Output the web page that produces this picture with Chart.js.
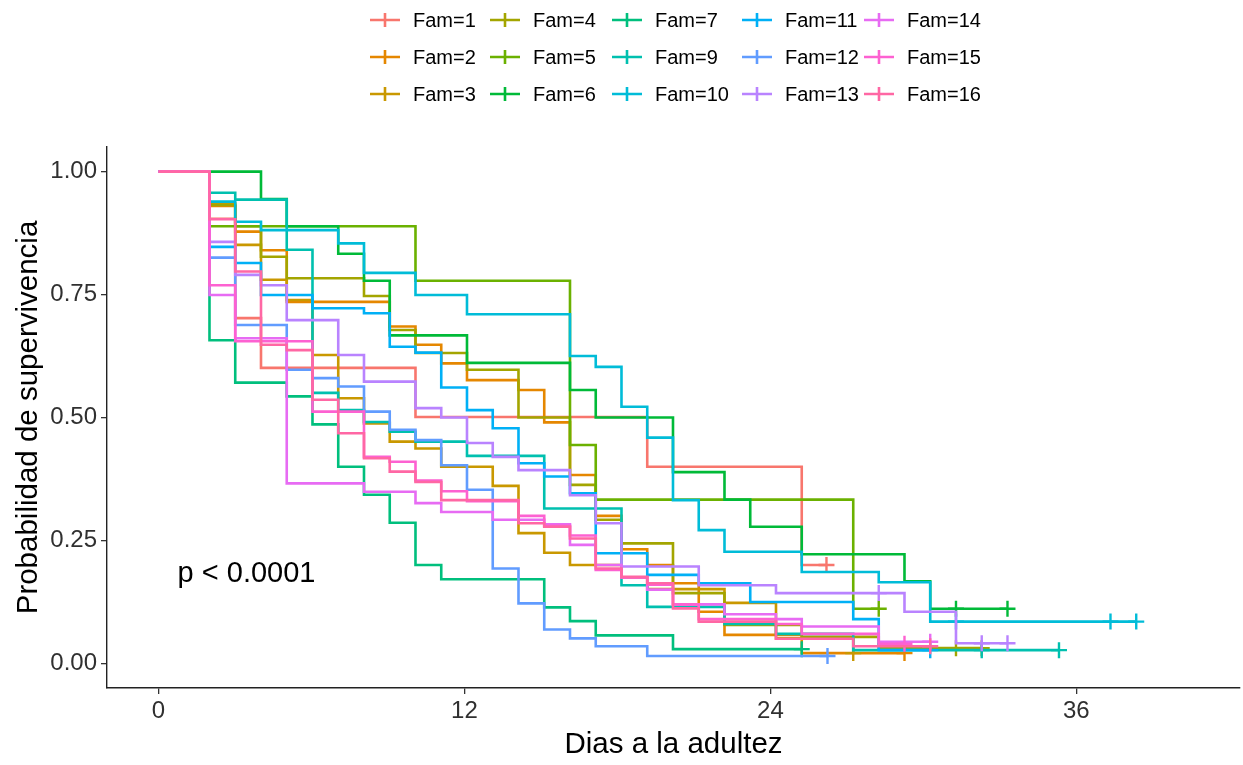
<!DOCTYPE html>
<html>
<head>
<meta charset="utf-8">
<script src="https://cdn.jsdelivr.net/npm/chart.js@4.4.0/dist/chart.umd.min.js"></script>
<style>
  html, body { margin: 0; padding: 0; background: #fff; }
  canvas { display: block; }
</style>
</head>
<body>
<canvas id="grafica" width="1243" height="765"></canvas>
<script>
// Curvas de supervivencia (Kaplan-Meier): [dia, probabilidad]
const fam1 = [[0,1],[2,0.904],[3.01,0.702],[4.02,0.601],[10.08,0.501],[19.17,0.40],[25.23,0.20]];
const fam2 = [[0,1],[2,0.93],[3.01,0.878],[4.02,0.84],[5.03,0.735],[9.07,0.685],[10.08,0.648],[11.09,0.61],[12.10,0.576],[14.12,0.556],[15.13,0.49],[16.14,0.383],[17.15,0.30],[18.16,0.232],[19.17,0.20],[20.18,0.163],[21.19,0.105],[22.20,0.058],[25.23,0.021]];
const fam3 = [[0,1],[2,0.935],[3.01,0.851],[4.02,0.78],[5.03,0.739],[6.04,0.627],[7.05,0.539],[8.06,0.488],[9.07,0.451],[10.08,0.437],[11.09,0.40],[13.11,0.361],[14.12,0.265],[15.13,0.225],[16.14,0.20],[18.16,0.175],[19.17,0.151],[22.20,0.123],[24.22,0.051],[27.25,0.021]];
const fam4 = [[0,1],[2,0.932],[3.01,0.889],[4.02,0.827],[5.03,0.783],[8.06,0.747],[9.07,0.678],[10.08,0.631],[12.10,0.597],[14.12,0.50],[16.14,0.363],[17.15,0.292],[18.16,0.244],[20.18,0.143],[22.20,0.078],[25.23,0.054],[28.25,0.031]];
const fam5 = [[0,1],[2,0.889],[10.08,0.778],[16.14,0.444],[17.15,0.333],[27.25,0.111]];
const fam6 = [[0,1],[4.02,0.944],[5.03,0.889],[7.05,0.833],[8.06,0.778],[9.07,0.667],[12.10,0.611],[16.14,0.556],[17.15,0.5],[20.18,0.389],[22.20,0.333],[23.21,0.278],[25.23,0.222],[29.26,0.167],[30.27,0.111]];
const fam7 = [[0,1],[2,0.657],[3.01,0.571],[5.03,0.543],[6.04,0.486],[7.05,0.40],[8.06,0.343],[9.07,0.286],[10.08,0.20],[11.09,0.171],[15.13,0.114],[16.14,0.086],[17.15,0.057],[20.18,0.029]];
const fam9 = [[0,1],[2,0.957],[3.01,0.943],[5.03,0.841],[6.04,0.55],[7.05,0.515],[8.06,0.491],[9.07,0.471],[10.08,0.451],[12.10,0.422],[15.13,0.315],[18.16,0.159],[19.17,0.115],[22.20,0.08],[24.22,0.06],[27.25,0.027]];
const fam10 = [[0,1],[2,0.939],[3.01,0.898],[4.02,0.881],[7.05,0.854],[8.06,0.794],[10.08,0.749],[12.10,0.71],[16.14,0.625],[17.15,0.603],[18.16,0.522],[19.17,0.459],[20.18,0.332],[21.19,0.271],[22.20,0.227],[25.23,0.186],[28.25,0.165],[30.27,0.085]];
const fam11 = [[0,1],[2,0.847],[3.01,0.814],[4.02,0.749],[6.04,0.722],[8.06,0.712],[9.07,0.644],[10.08,0.632],[11.09,0.561],[12.10,0.515],[13.11,0.478],[14.12,0.407],[15.13,0.38],[16.14,0.346],[17.15,0.224],[19.17,0.18],[21.19,0.163],[23.21,0.125],[27.25,0.09],[28.25,0.027]];
const fam12 = [[0,1],[2,0.825],[3.01,0.688],[5.03,0.597],[6.04,0.58],[7.05,0.563],[8.06,0.512],[9.07,0.475],[10.08,0.454],[11.09,0.403],[12.10,0.353],[13.11,0.193],[14.12,0.122],[15.13,0.069],[16.14,0.051],[17.15,0.035],[19.17,0.015]];
const fam13 = [[0,1],[2,0.857],[3.01,0.79],[4.02,0.769],[5.03,0.698],[7.05,0.627],[8.06,0.573],[10.08,0.519],[11.09,0.50],[12.10,0.448],[13.11,0.42],[14.12,0.393],[16.14,0.342],[17.15,0.285],[18.16,0.197],[21.19,0.159],[24.22,0.143],[29.26,0.105],[31.28,0.041]];
const fam14 = [[0,1],[2,0.749],[3.01,0.661],[5.03,0.366],[8.06,0.349],[10.08,0.326],[11.09,0.308],[13.11,0.292],[15.13,0.283],[16.14,0.241],[17.15,0.20],[18.16,0.175],[19.17,0.15],[20.18,0.12],[22.20,0.10],[24.22,0.09],[25.23,0.075],[28.25,0.044]];
const fam15 = [[0,1],[2,0.769],[3.01,0.655],[6.04,0.512],[8.06,0.42],[9.07,0.41],[10.08,0.372],[11.09,0.35],[12.10,0.33],[14.12,0.30],[15.13,0.28],[16.14,0.26],[17.15,0.19],[18.16,0.175],[19.17,0.16],[20.18,0.12],[21.19,0.09],[24.22,0.08],[25.23,0.06],[28.25,0.04]];
const fam16 = [[0,1],[2,0.903],[3.01,0.797],[4.02,0.648],[5.03,0.637],[6.04,0.536],[7.05,0.468],[8.06,0.417],[9.07,0.39],[10.08,0.369],[11.09,0.332],[14.12,0.285],[15.13,0.278],[16.14,0.254],[17.15,0.193],[18.16,0.176],[19.17,0.163],[20.18,0.112],[21.19,0.085],[24.22,0.05],[27.25,0.035]];

// Tiempos censurados (marcas "+")
const cens1 = [26.2];
const cens2 = [29.26];
const cens3 = [27.25];
const cens4 = [31.28, 32.29];
const cens5 = [28.25];
const cens6 = [31.28, 33.30];
const cens7 = [25.23];
const cens9 = [32.29, 35.32];
const cens10 = [31.28, 37.34, 38.35];
const cens11 = [30.27];
const cens12 = [26.24];
const cens13 = [28.25, 32.29, 33.30];
const cens14 = [30.27];
const cens15 = [29.26];
const cens16 = [30.27];

const etiquetas = ['Fam=1','Fam=2','Fam=3','Fam=4','Fam=5','Fam=6','Fam=7','Fam=9','Fam=10','Fam=11','Fam=12','Fam=13','Fam=14','Fam=15','Fam=16'];
const curvas = [fam1, fam2, fam3, fam4, fam5, fam6, fam7, fam9, fam10, fam11, fam12, fam13, fam14, fam15, fam16];
const censuras = [cens1, cens2, cens3, cens4, cens5, cens6, cens7, cens9, cens10, cens11, cens12, cens13, cens14, cens15, cens16];
const colores = ['#F8766D','#E58700','#C99800','#A3A500','#6BB100','#00BA38','#00BF7D','#00C0AF','#00BCD8','#00B0F6','#619CFF','#B983FF','#E76BF3','#FD61D1','#FF67A4'];

const ticksX = [0, 12, 24, 36];
const ticksY = [0, 0.25, 0.5, 0.75, 1];

const fuente = '"Liberation Sans", Arial, sans-serif';

// Une los pasos y las censuras de una familia en una sola serie ordenada
function construirPuntos(pasos, cens) {
  const puntos = pasos.map(([t, s]) => ({ x: t, y: s, c: false }));
  cens.forEach(t => {
    let s = 1;
    pasos.forEach(([tt, ss]) => { if (tt <= t) s = ss; });
    puntos.push({ x: t, y: s, c: true });
  });
  puntos.sort((a, b) => a.x - b.x || (a.c - b.c));
  return puntos;
}

const datasets = curvas.map((curva, i) => ({
  label: etiquetas[i],
  data: construirPuntos(curva, censuras[i]),
  borderColor: colores[i],
  backgroundColor: colores[i],
  borderWidth: 2.6,
  stepped: 'before', // horizontal primero y luego el salto, como Kaplan-Meier
  fill: false,
  order: curvas.length - i, // Fam=16 queda encima, como en ggplot
  pointStyle: 'cross',
  pointRadius: ctx => (ctx.raw && ctx.raw.c ? 8 : 0),
  pointHoverRadius: ctx => (ctx.raw && ctx.raw.c ? 8 : 0),
  pointBorderWidth: 2.4,
  pointBorderColor: colores[i]
}));

// Leyenda en 3 filas x 5 columnas (por columnas) y texto del valor p
const colLeyenda = [385, 505, 627, 757, 879];
const filaLeyenda = [20, 57, 94];
const valorP = { x: 0.75, y: 0.182, texto: 'p < 0.0001' };

const extrasPlugin = {
  id: 'extras',
  afterDraw(chart) {
    const ctx = chart.ctx;
    ctx.save();
    etiquetas.forEach((txt, i) => {
      const cx = colLeyenda[Math.floor(i / 3)];
      const cy = filaLeyenda[i % 3];
      ctx.strokeStyle = colores[i];
      ctx.lineWidth = 2.6;
      ctx.beginPath();
      ctx.moveTo(cx - 15, cy); ctx.lineTo(cx + 15, cy);
      ctx.moveTo(cx, cy - 7); ctx.lineTo(cx, cy + 7);
      ctx.stroke();
      ctx.fillStyle = '#000';
      ctx.font = '20px ' + fuente;
      ctx.textBaseline = 'middle';
      ctx.textAlign = 'left';
      ctx.fillText(txt, cx + 28, cy + 1);
    });
    const px = chart.scales.x.getPixelForValue(valorP.x);
    const py = chart.scales.y.getPixelForValue(valorP.y);
    ctx.fillStyle = '#000';
    ctx.font = '29px ' + fuente;
    ctx.textBaseline = 'middle';
    ctx.fillText(valorP.texto, px, py);
    ctx.restore();
  }
};

const ejeComun = {
  border: { display: true, color: '#222', width: 1.4 },
  grid: { display: true, drawOnChartArea: false, drawTicks: true, tickLength: 6, color: '#333', lineWidth: 1.3 }
};

new Chart(document.getElementById('grafica').getContext('2d'), {
  type: 'line',
  data: { datasets },
  options: {
    responsive: false,
    devicePixelRatio: 1,
    animation: false,
    layout: { autoPadding: false, padding: { top: 147, right: 3, left: 0, bottom: 0 } },
    plugins: { legend: { display: false }, tooltip: { enabled: false } },
    scales: {
      x: {
        ...ejeComun,
        type: 'linear',
        min: -2.02,
        max: 42.42,
        afterBuildTicks: s => { s.ticks = ticksX.map(v => ({ value: v })); },
        afterFit: s => { s.height = 77; s.paddingLeft = 0; s.paddingRight = 0; },
        ticks: { color: '#303030', font: { family: fuente, size: 24 }, padding: 3, maxRotation: 0, callback: v => String(v) },
        title: { display: true, text: 'Dias a la adultez', color: '#000', font: { family: fuente, size: 29.5, lineHeight: 1.2 }, padding: { top: 0, bottom: 2 } }
      },
      y: {
        ...ejeComun,
        type: 'linear',
        min: -0.05,
        max: 1.05,
        afterBuildTicks: s => { s.ticks = ticksY.map(v => ({ value: v })); },
        afterFit: s => { s.width = 107; s.paddingTop = 0; s.paddingBottom = 0; },
        ticks: { color: '#303030', font: { family: fuente, size: 24 }, padding: 4, callback: v => Number(v).toFixed(2) },
        title: { display: true, text: 'Probabilidad de supervivencia', color: '#000', font: { family: fuente, size: 29.5, lineHeight: 1.2 }, padding: { top: 11, bottom: 0 } }
      }
    }
  },
  plugins: [extrasPlugin]
});
</script>
</body>
</html>
